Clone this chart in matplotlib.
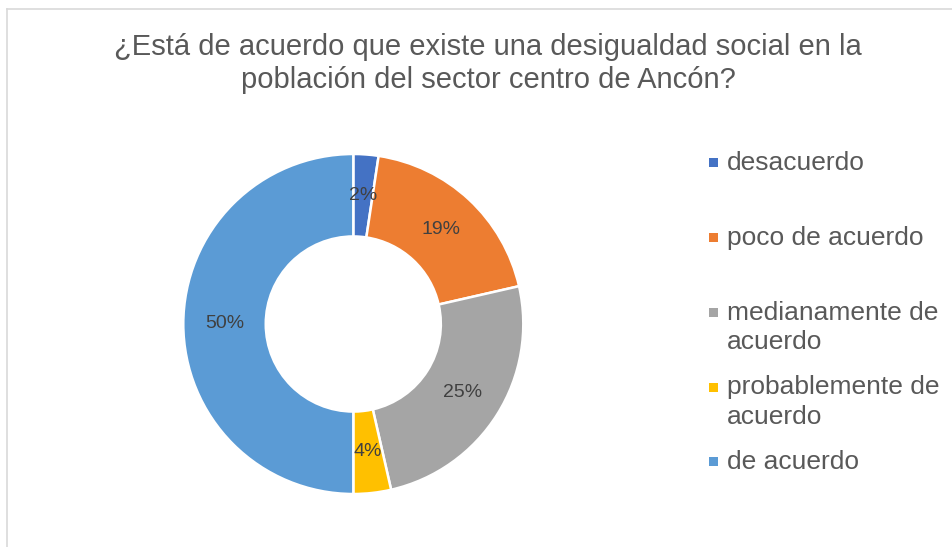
import matplotlib
matplotlib.use('Agg')
import matplotlib.pyplot as plt
from matplotlib.patches import Rectangle

plt.rcParams['font.family'] = ['Liberation Sans', 'DejaVu Sans']

# ── Data ─────────────────────────────────────────────────────────────
TITLE_LINES = ['¿Está de acuerdo que existe una desigualdad social en la',
               'población del sector centro de Ancón?']
CATEGORIES = ['desacuerdo', 'poco de acuerdo', 'medianamente de\nacuerdo',
              'probablemente de\nacuerdo', 'de acuerdo']
COUNTS = [2, 16, 21, 3, 42]
COLORS = ['#4472C4', '#ED7D31', '#A5A5A5', '#FFC000', '#5B9BD5']

W, H = 953, 547
TXT = '#595959'

fig = plt.figure(figsize=(W / 100, H / 100), dpi=100)
fig.patch.set_facecolor('white')

# chart-area border (only top and left visible in the crop)
fig.add_artist(plt.Line2D([7.5 / W, 7.5 / W], [0, 1 - 8.5 / H],
                          transform=fig.transFigure, color='#D9D9D9', lw=1.2))
fig.add_artist(plt.Line2D([7.5 / W, 1], [1 - 8.5 / H, 1 - 8.5 / H],
                          transform=fig.transFigure, color='#D9D9D9', lw=1.2))

# ── Donut ───────────────────────────────────────────────────────────
cx, cy, r = 353.3, 324, 170
ax = fig.add_axes([(cx - r) / W, (H - cy - r) / H, 2 * r / W, 2 * r / H])
wedges, texts, autotexts = ax.pie(
    COUNTS, colors=COLORS, startangle=90, counterclock=False,
    autopct='%1.0f%%', pctdistance=0.757, radius=1,
    wedgeprops=dict(width=0.485, edgecolor='white', linewidth=1.8),
    textprops=dict(color='#404040', fontsize=14))
ax.set_xlim(-1, 1)
ax.set_ylim(-1, 1)
ax.axis('off')

# ── Title ───────────────────────────────────────────────────────────
for line, base in zip(TITLE_LINES, [55, 88]):
    fig.text(488 / W, 1 - base / H, line, ha='center', va='baseline',
             fontsize=21, color=TXT)

# ── Legend (Excel style, evenly spaced entries, wrapped labels) ─────
for i, (label, color) in enumerate(zip(CATEGORIES, COLORS)):
    my = 162.7 + 74.8 * i
    fig.add_artist(Rectangle(((713.8 - 4.5) / W, 1 - (my + 4.5) / H),
                             9 / W, 9 / H, transform=fig.transFigure,
                             facecolor=color, edgecolor='none'))
    for k, part in enumerate(label.split('\n')):
        fig.text(727 / W, 1 - (my + 7.3 + 29.3 * k) / H, part,
                 ha='left', va='baseline', fontsize=19, color=TXT)

fig.savefig('out.png', dpi=100)
